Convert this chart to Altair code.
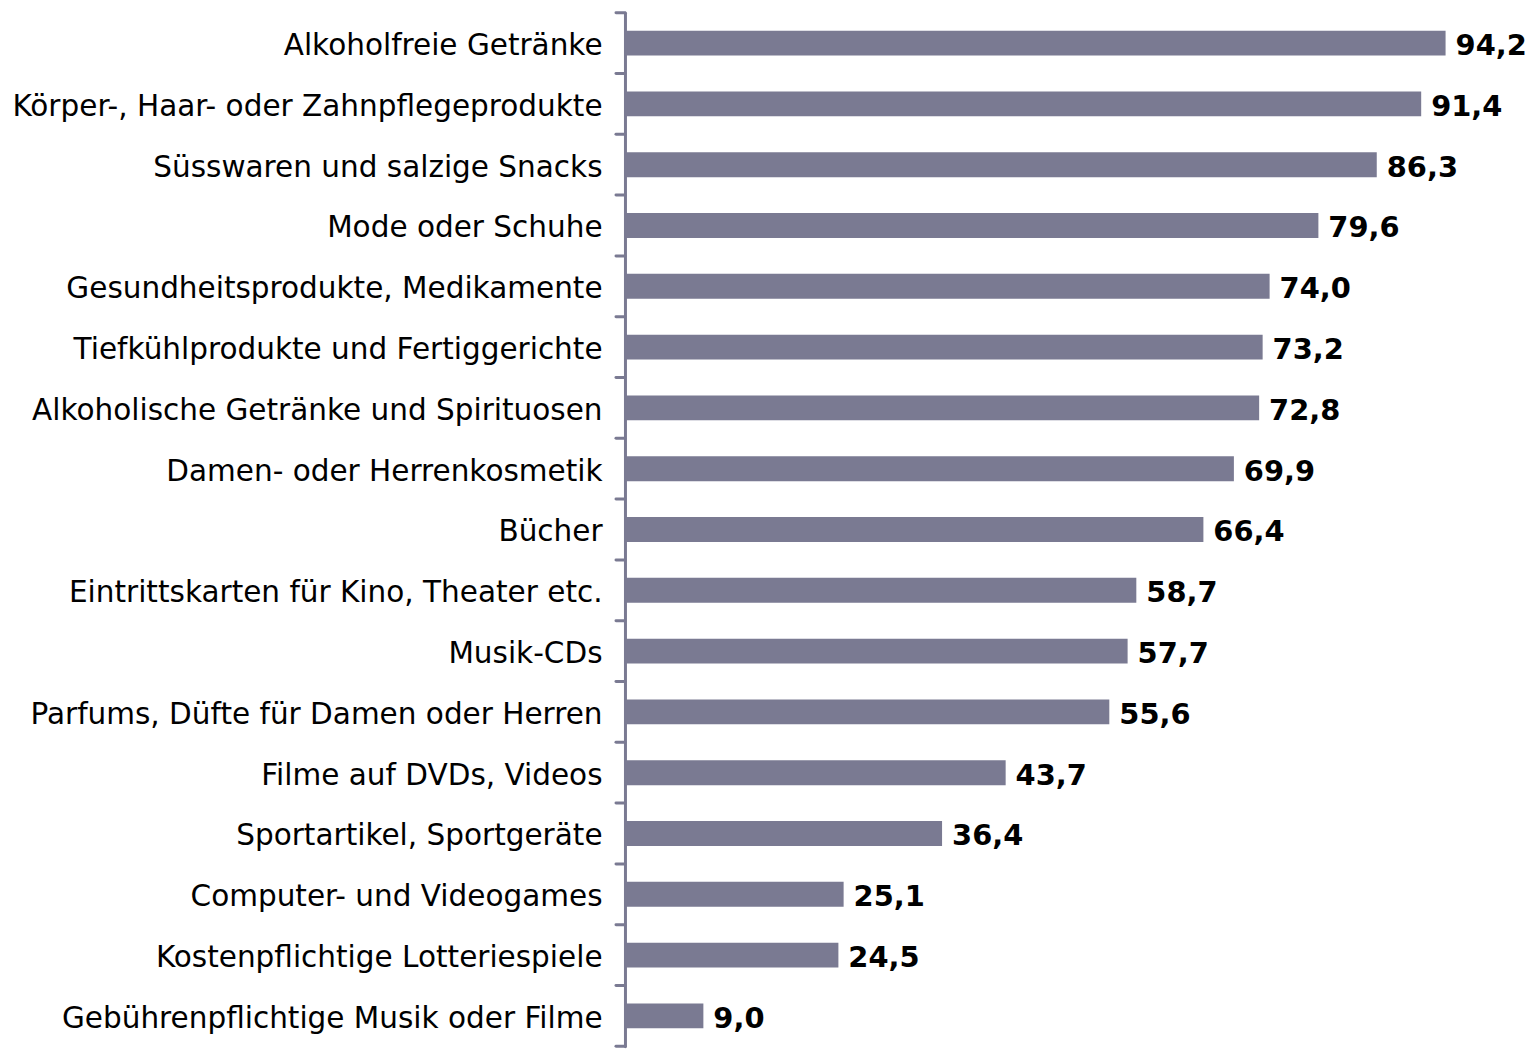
import altair as alt
import pandas as pd

categories = [
    "Alkoholfreie Getränke",
    "Körper-, Haar- oder Zahnpflegeprodukte",
    "Süsswaren und salzige Snacks",
    "Mode oder Schuhe",
    "Gesundheitsprodukte, Medikamente",
    "Tiefkühlprodukte und Fertiggerichte",
    "Alkoholische Getränke und Spirituosen",
    "Damen- oder Herrenkosmetik",
    "Bücher",
    "Eintrittskarten für Kino, Theater etc.",
    "Musik-CDs",
    "Parfums, Düfte für Damen oder Herren",
    "Filme auf DVDs, Videos",
    "Sportartikel, Sportgeräte",
    "Computer- und Videogames",
    "Kostenpflichtige Lotteriespiele",
    "Gebührenpflichtige Musik oder Filme",
]
values = [94.2, 91.4, 86.3, 79.6, 74.0, 73.2, 72.8, 69.9, 66.4, 58.7,
          57.7, 55.6, 43.7, 36.4, 25.1, 24.5, 9.0]

df = pd.DataFrame({"cat": categories, "val": values})
df["label"] = [f"{v:.1f}".replace(".", ",") for v in values]

BAR = "#7A7A92"
FONT = "DejaVu Sans"

y_enc = alt.Y(
    "cat:N",
    sort=categories,
    scale=alt.Scale(paddingInner=0, paddingOuter=0),
    axis=alt.Axis(
        title=None,
        ticks=False,
        labelLimit=0,
        labelFont=FONT,
        labelFontSize=29.6,
        labelColor="#000000",
        labelPadding=23,
        labelOffset=3,
        domainColor=BAR,
        domainWidth=3,
        domainCap="round",
    ),
)
x_enc = alt.X("val:Q", scale=alt.Scale(domain=[0, 100], nice=False), axis=None)

base = alt.Chart(df)

bars = base.mark_bar(color=BAR, height={"band": 0.41}).encode(x=x_enc, y=y_enc)

text = base.mark_text(
    align="left", baseline="middle", dx=10, dy=3, font=FONT, fontSize=29,
    fontWeight="bold", color="#000000"
).encode(x=x_enc, y=y_enc, text="label:N")

ticks = base.mark_rule(color=BAR, strokeWidth=3, strokeCap="round").encode(
    y=alt.Y("cat:N", sort=categories, bandPosition=0),
    x=alt.value(-9),
    x2=alt.value(0),
)

bottom_tick = base.transform_filter(
    alt.datum.cat == categories[-1]
).mark_rule(color=BAR, strokeWidth=3, strokeCap="round").encode(
    y=alt.Y("cat:N", sort=categories, bandPosition=1),
    x=alt.value(-9),
    x2=alt.value(0),
)

chart = alt.layer(bars, text, ticks, bottom_tick).properties(
    width=874,
    height=1037,
    padding={"left": 4, "top": 1, "right": 0, "bottom": 0},
).configure_view(stroke=None)

chart.save("out.html", embed_options={"renderer": "svg", "actions": False})
